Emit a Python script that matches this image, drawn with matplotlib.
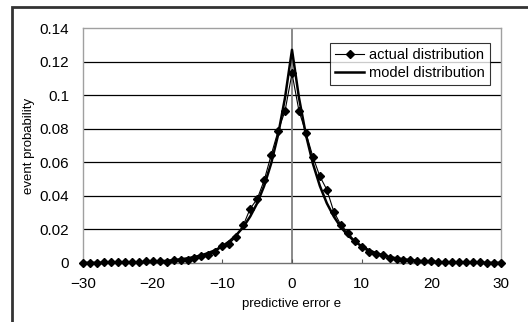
import matplotlib
matplotlib.use("Agg")
import matplotlib.pyplot as plt
from matplotlib.patches import Rectangle
from matplotlib.lines import Line2D

plt.rcParams['font.family'] = ['Liberation Sans Narrow', 'Liberation Sans', 'DejaVu Sans']

# predictive error e (integer steps)
error_e = list(range(-30, 31))

# actual distribution
actual_prob = [
    0.0002, 0.0002, 0.0002, 0.0003, 0.0003, 0.0004, 0.0004, 0.0005, 0.0007, 0.0010,
    0.0013, 0.0010, 0.0007, 0.0016, 0.0017, 0.0020, 0.0028, 0.0040, 0.0048, 0.0067,
    0.0099, 0.0115, 0.0157, 0.0224, 0.0324, 0.0381, 0.0492, 0.0642, 0.0786, 0.0906,
    0.1130,
    0.0906, 0.0775, 0.0633, 0.0516, 0.0437, 0.0306, 0.0228, 0.0181, 0.0132, 0.0093,
    0.0067, 0.0052, 0.0046, 0.0032, 0.0023, 0.0018, 0.0016, 0.0012, 0.0010, 0.0009,
    0.0008, 0.0006, 0.0005, 0.0004, 0.0004, 0.0003, 0.0003, 0.0002, 0.0002, 0.0002,
]

# model distribution
model_prob = [
    0.0001, 0.0001, 0.0001, 0.0001, 0.0002, 0.0002, 0.0002, 0.0003, 0.0004, 0.0005,
    0.0008, 0.0010, 0.0013, 0.0017, 0.0022, 0.0028, 0.0036, 0.0046, 0.0060, 0.0077,
    0.0100, 0.0129, 0.0166, 0.0214, 0.0277, 0.0356, 0.0459, 0.0592, 0.0763, 0.0985,
    0.1270,
    0.0985, 0.0763, 0.0592, 0.0459, 0.0356, 0.0277, 0.0214, 0.0166, 0.0129, 0.0100,
    0.0077, 0.0060, 0.0046, 0.0036, 0.0028, 0.0022, 0.0017, 0.0013, 0.0010, 0.0008,
    0.0005, 0.0004, 0.0003, 0.0002, 0.0002, 0.0002, 0.0001, 0.0001, 0.0001, 0.0001,
]

y_ticks = [0, 0.02, 0.04, 0.06, 0.08, 0.1, 0.12, 0.14]
y_labels = ["0", "0.02", "0.04", "0.06", "0.08", "0.1", "0.12", "0.14"]
x_ticks = [-30, -20, -10, 0, 10, 20, 30]
x_labels = ["\u221230", "\u221220", "\u221210", "0", "10", "20", "30"]

fig = plt.figure(figsize=(5.28, 3.22), dpi=100)
ax = fig.add_axes([83 / 528, 1 - 263 / 322, 418 / 528, 235 / 322])

# outer chart frame (right and bottom edges fall outside the picture)
fig.patches.append(Rectangle((12 / 528, -0.1), 1.2, 1 - 7 / 322 + 0.1,
                             transform=fig.transFigure, fill=False,
                             edgecolor="#333333", linewidth=2))

for yv in y_ticks[1:-1]:
    ax.axhline(yv, color="black", linewidth=0.9, zorder=1)
ax.axvline(0, color="#808080", linewidth=1.3, zorder=1)

ax.plot(error_e, model_prob, color="black", linewidth=1.8, zorder=3,
        label="model distribution")
ax.plot(error_e, actual_prob, color="black", linewidth=0.8, marker="D",
        markersize=3.8, zorder=4, clip_on=False, label="actual distribution")

ax.set_xlim(-30, 30)
ax.set_ylim(0, 0.14)
ax.set_yticks(y_ticks)
ax.set_yticklabels(y_labels)
ax.set_xticks(x_ticks)
ax.set_xticklabels(x_labels)
ax.tick_params(axis="y", length=0, pad=10, labelsize=11)
ax.tick_params(axis="x", direction="in", length=3, color="#555555",
               pad=10, labelsize=11)

ax.spines["left"].set_color("#a0a0a0")
ax.spines["right"].set_color("#a0a0a0")
ax.spines["top"].set_color("#a0a0a0")
ax.spines["bottom"].set_color("#707070")
for s in ax.spines.values():
    s.set_linewidth(1.0)

ax.set_xlabel("predictive error e", fontsize=9.5, labelpad=5)
ax.set_ylabel("event probability", fontsize=9.5, labelpad=3)

handles = [
    Line2D([], [], color="black", linewidth=0.8, marker="D", markersize=3.8),
    Line2D([], [], color="black", linewidth=1.8),
]
leg = ax.legend(handles, ["actual distribution", "model distribution"],
                loc="upper left", bbox_to_anchor=((330 - 83) / 418, 1 - (43 - 28) / 235),
                fontsize=10.5, frameon=True, fancybox=False, handlelength=2.0,
                handletextpad=0.3, borderpad=0.35, labelspacing=0.25,
                borderaxespad=0)
leg.get_frame().set_edgecolor("black")
leg.get_frame().set_linewidth(0.8)

fig.savefig("out.png", dpi=100)
